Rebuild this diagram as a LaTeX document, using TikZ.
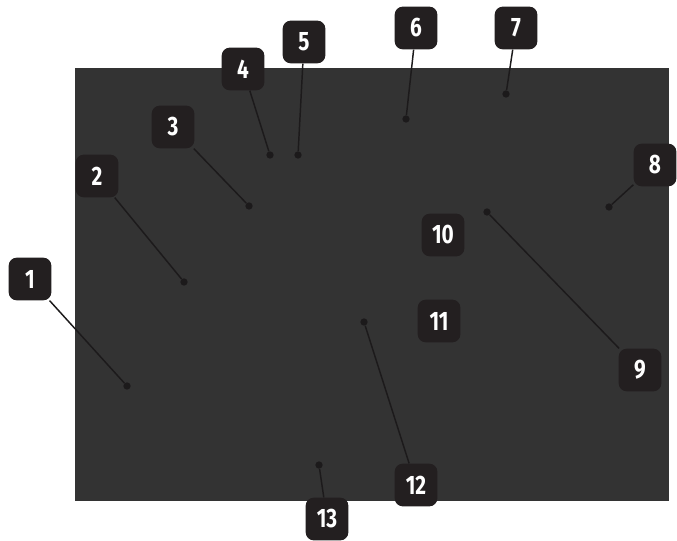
\documentclass[tikz,border=0pt]{standalone}
\usepackage{fontspec}
\newfontfamily\badgefont[FakeStretch=0.78]{Fira Sans}
\definecolor{panel}{HTML}{333333}
\definecolor{badgebg}{HTML}{231F20}
\definecolor{leader}{HTML}{1C1A1B}
\begin{document}
\begin{tikzpicture}[x=0.75pt,y=-0.75pt,
  badge/.style={fill=badgebg,rounded corners=6pt,minimum width=32pt,minimum height=32pt,inner sep=0pt,text=white,font=\badgefont\bfseries\fontsize{20}{20}\selectfont},
  spot/.style={circle,fill=leader,inner sep=0pt,minimum size=5.5pt},
  leaderline/.style={draw=leader,line width=1.1pt}]
\useasboundingbox (0,0) rectangle (677,541);
\fill[panel] (75,68) rectangle (669,501) coordinate (panelcorner);
% dots
\node[spot] (d1) at (127,386) {};
\node[spot] (d2) at (184,282) {};
\node[spot] (d3) at (249,206) {};
\node[spot] (d4) at (270,155) {};
\node[spot] (d5) at (298,155) {};
\node[spot] (d6) at (406,119) {};
\node[spot] (d7) at (506,94) {};
\node[spot] (d8) at (609,207) {};
\node[spot] (d9) at (487,212) {};
\node[spot] (d12) at (364,322) {};
\node[spot] (d13) at (319,465) {};
% badges
\node[badge] (b1) at (30,279) {1};
\node[badge] (b2) at (97,176) {2};
\node[badge] (b3) at (173,127) {3};
\node[badge] (b4) at (243,69) {4};
\node[badge] (b5) at (304,42) {5};
\node[badge] (b6) at (416,28) {6};
\node[badge] (b7) at (516,28) {7};
\node[badge] (b8) at (655,165) {8};
\node[badge] (b9) at (640,370) {9};
\node[badge] (b10) at (443,235) {10};
\node[badge] (b11) at (439,321) {11};
\node[badge] (b12) at (416,485) {12};
\node[badge] (b13) at (327,519) {13};
% leaders
\begin{scope}[on background layer/.style={}]
\draw[leaderline] (b1) -- (d1);
\draw[leaderline] (b2) -- (d2);
\draw[leaderline] (b3) -- (d3);
\draw[leaderline] (b4) -- (d4);
\draw[leaderline] (b5) -- (d5);
\draw[leaderline] (b6) -- (d6);
\draw[leaderline] (b7) -- (d7);
\draw[leaderline] (b8) -- (d8);
\draw[leaderline] (b9) -- (d9);
\draw[leaderline] (b12) -- (d12);
\draw[leaderline] (b13) -- (d13);
\end{scope}
\end{tikzpicture}
\end{document}
